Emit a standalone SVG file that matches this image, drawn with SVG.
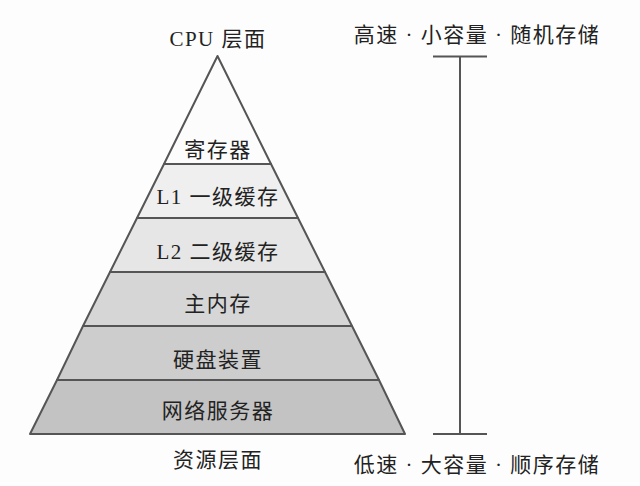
<svg xmlns="http://www.w3.org/2000/svg" width="640" height="486" viewBox="0 0 640 486">
<style>
.t{font-family:"Liberation Serif","Noto Sans CJK SC",serif;font-size:21px;letter-spacing:1.5px;fill:#222;text-anchor:middle}
.b{stroke:#555;stroke-width:2;stroke-linejoin:round}
.c{stroke:#555;stroke-width:2;fill:none}
</style>
<rect width="640" height="486" fill="#fdfdfd"/>
<g id="l0"><polygon class="b" points="217.5,56 271,164 164,164" fill="#fcfcfc"/><text class="t" x="218" y="157">寄存器</text></g>
<g id="l1"><polygon class="b" points="164,164 271,164 298,218 137,218" fill="#efefef"/><text class="t" x="218" y="204">L1 一级缓存</text></g>
<g id="l2"><polygon class="b" points="137,218 298,218 325,272 110,272" fill="#e6e6e6"/><text class="t" x="218" y="259">L2 二级缓存</text></g>
<g id="l3"><polygon class="b" points="110,272 325,272 352,326 83,326" fill="#d6d6d6"/><text class="t" x="218" y="311">主内存</text></g>
<g id="l4"><polygon class="b" points="83,326 352,326 379,380 57,380" fill="#cdcdcd"/><text class="t" x="218" y="367">硬盘装置</text></g>
<g id="l5"><polygon class="b" points="57,380 379,380 405,434 30,434" fill="#c3c3c3"/><text class="t" x="218" y="418">网络服务器</text></g>
<g id="top"><text class="t" x="218" y="46">CPU 层面</text></g>
<g id="bottom"><text class="t" x="218" y="467">资源层面</text></g>
<g id="connectors">
<line class="c" x1="433" y1="56.5" x2="487" y2="56.5"/>
<line class="c" x1="460" y1="56" x2="460" y2="434"/>
<line class="c" x1="433" y1="434" x2="487" y2="434"/>
</g>
<g id="fast"><text class="t" x="477" y="42">高速 · 小容量 · 随机存储</text></g>
<g id="slow"><text class="t" x="477" y="472">低速 · 大容量 · 顺序存储</text></g>
</svg>
